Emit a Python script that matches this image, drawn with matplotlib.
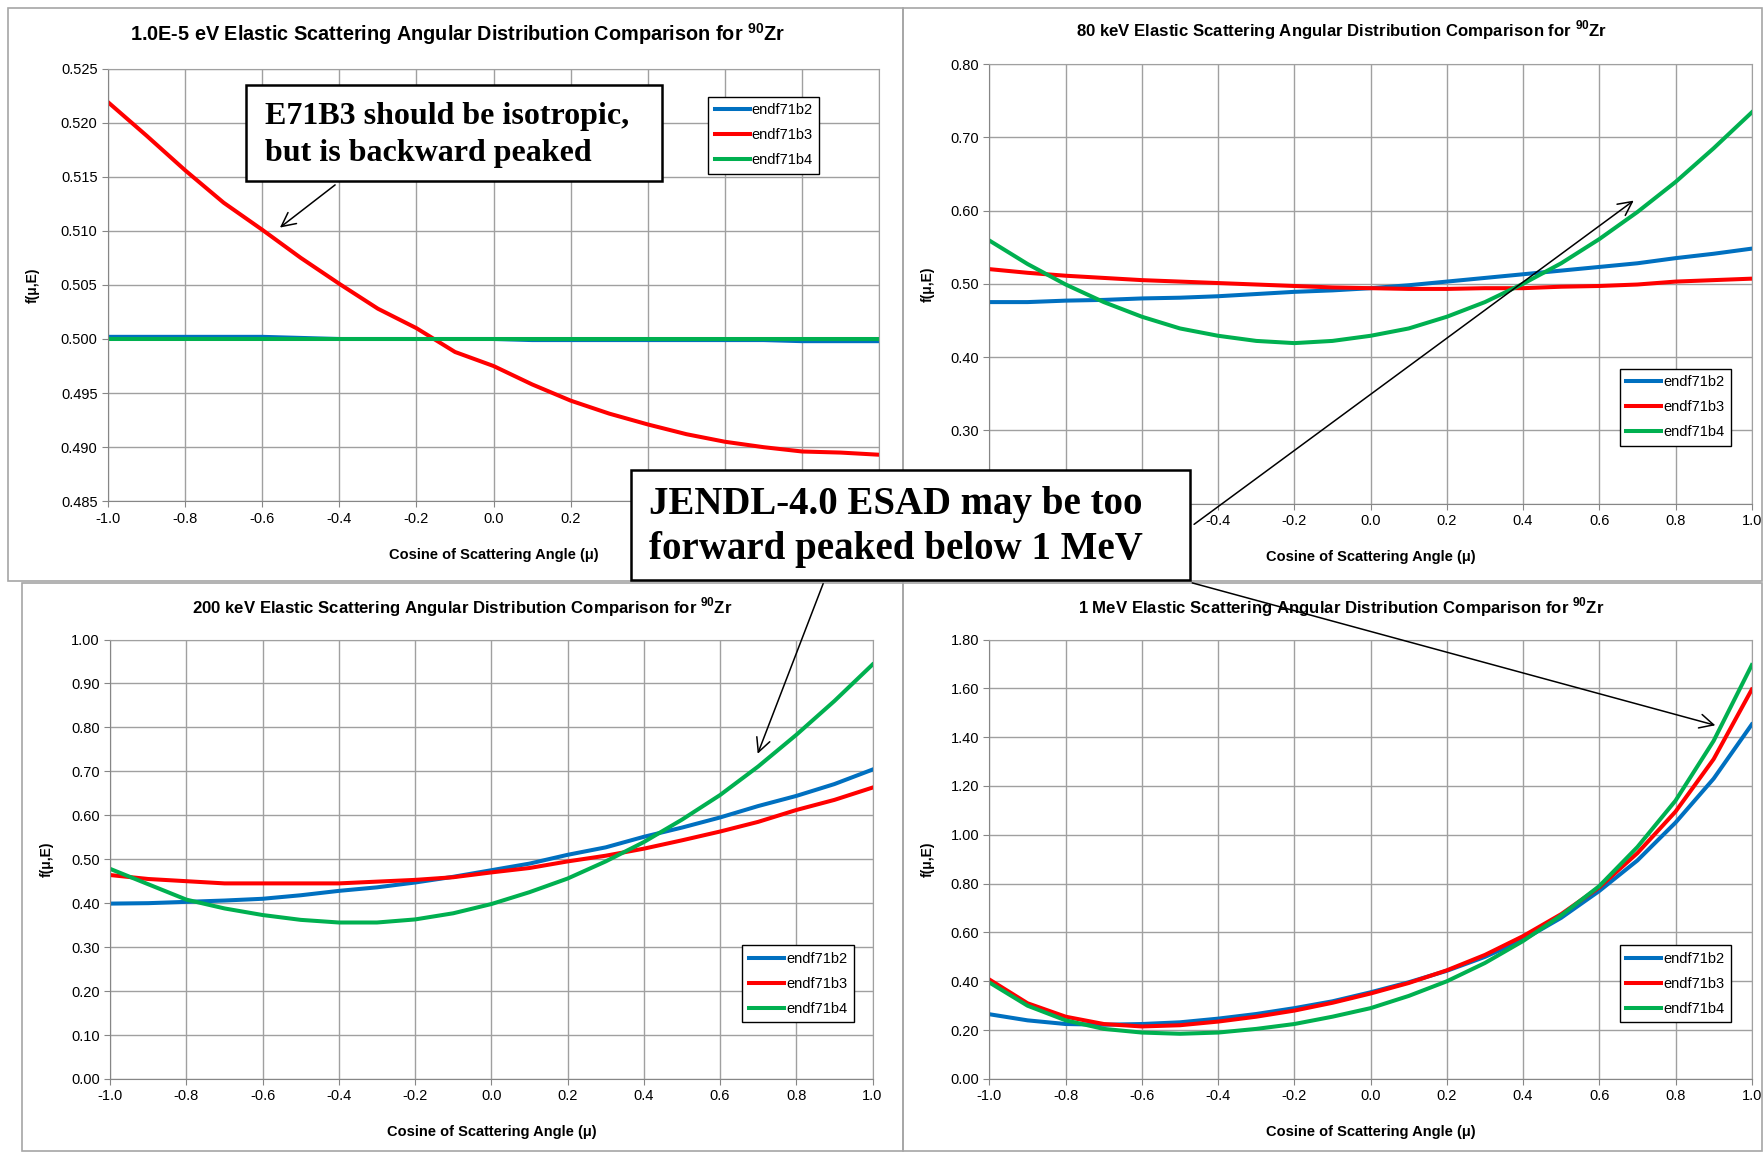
import matplotlib
matplotlib.use('Agg')
import matplotlib.pyplot as plt
from matplotlib.patches import Rectangle, FancyArrowPatch
from matplotlib.ticker import MultipleLocator, FuncFormatter

plt.rcParams['font.family'] = ['Liberation Sans', 'DejaVu Sans']
plt.rcParams['mathtext.fontset'] = 'custom'
plt.rcParams['mathtext.rm'] = 'Liberation Sans'
plt.rcParams['mathtext.bf'] = 'Liberation Sans:bold'

# cosine of scattering angle, same grid for every panel
mu = [-1.0, -0.9, -0.8, -0.7, -0.6, -0.5, -0.4, -0.3, -0.2, -0.1, 0.0,
      0.1, 0.2, 0.3, 0.4, 0.5, 0.6, 0.7, 0.8, 0.9, 1.0]
series_names = ['endf71b2', 'endf71b3', 'endf71b4']

# 1.0E-5 eV
b2_1em5 = [0.5002, 0.5002, 0.5002, 0.5002, 0.5002, 0.5001, 0.5000, 0.5000, 0.5000, 0.5000, 0.5000,
           0.4999, 0.4999, 0.4999, 0.4999, 0.4999, 0.4999, 0.4999, 0.4998, 0.4998, 0.4998]
b3_1em5 = [0.5219, 0.5188, 0.5156, 0.5126, 0.5101, 0.5075, 0.5051, 0.5028, 0.5010, 0.4988, 0.4975,
           0.4958, 0.4943, 0.4931, 0.4921, 0.4912, 0.4905, 0.4900, 0.4896, 0.4895, 0.4893]
b4_1em5 = [0.5000] * 21

# 80 keV
b2_80k = [0.475, 0.475, 0.477, 0.478, 0.480, 0.481, 0.483, 0.486, 0.489, 0.491, 0.494,
          0.498, 0.503, 0.508, 0.513, 0.518, 0.523, 0.528, 0.535, 0.541, 0.548]
b3_80k = [0.520, 0.515, 0.511, 0.508, 0.505, 0.503, 0.501, 0.499, 0.497, 0.495, 0.494,
          0.493, 0.493, 0.494, 0.494, 0.496, 0.497, 0.499, 0.503, 0.505, 0.507]
b4_80k = [0.559, 0.527, 0.499, 0.475, 0.455, 0.439, 0.429, 0.422, 0.419, 0.422, 0.429,
          0.439, 0.455, 0.475, 0.500, 0.528, 0.561, 0.598, 0.639, 0.685, 0.734]

# 200 keV
b2_200k = [0.399, 0.400, 0.403, 0.406, 0.410, 0.418, 0.428, 0.436, 0.447, 0.460, 0.475,
           0.490, 0.510, 0.527, 0.551, 0.572, 0.595, 0.621, 0.644, 0.671, 0.704]
b3_200k = [0.464, 0.455, 0.450, 0.445, 0.445, 0.445, 0.445, 0.449, 0.453, 0.459, 0.470,
           0.480, 0.495, 0.508, 0.524, 0.543, 0.563, 0.585, 0.612, 0.635, 0.663]
b4_200k = [0.478, 0.443, 0.408, 0.388, 0.373, 0.362, 0.356, 0.356, 0.363, 0.377, 0.398,
           0.425, 0.456, 0.495, 0.539, 0.590, 0.646, 0.711, 0.783, 0.860, 0.943]

# 1 MeV
b2_1m = [0.265, 0.240, 0.225, 0.222, 0.225, 0.232, 0.247, 0.266, 0.290, 0.318, 0.355,
         0.396, 0.443, 0.500, 0.570, 0.660, 0.770, 0.895, 1.050, 1.230, 1.452]
b3_1m = [0.407, 0.310, 0.255, 0.225, 0.215, 0.220, 0.235, 0.255, 0.280, 0.312, 0.350,
         0.393, 0.445, 0.508, 0.585, 0.675, 0.785, 0.925, 1.095, 1.310, 1.595]
b4_1m = [0.395, 0.300, 0.240, 0.205, 0.190, 0.185, 0.190, 0.205, 0.225, 0.255, 0.290,
         0.340, 0.400, 0.475, 0.565, 0.670, 0.790, 0.950, 1.140, 1.385, 1.695]

colors = ['#0070C0', '#FF0000', '#00B050']

W, H = 1568.0, 1025.0  # layout measured on the shrunk picture


def fig_rect(x0, y0, x1, y1):
    return [x0 / W, 1 - y1 / H, (x1 - x0) / W, (y1 - y0) / H]


def fig_pt(x, y):
    return (x / W, 1 - y / H)


# tick labels that sit under the big callout box are not shown
def make_formatter(fmt, hidden):
    def f(v, pos):
        for h in hidden:
            if abs(v - h) < 1e-6:
                return ''
        return fmt % v
    return FuncFormatter(f)


def draw_panel(fig, box, border, title, title_xy, title_size, curves, ylim, ystep, yfmt,
               leg_xy, ylab_x, xlab_y, hide_x=(), hide_y=()):
    # gray frame round each chart, like pasted Excel charts
    r = fig_rect(*border)
    fig.add_artist(Rectangle((r[0], r[1]), r[2], r[3], transform=fig.transFigure,
                             fill=False, edgecolor='#a6a6a6', linewidth=1.2, zorder=1))

    ax = fig.add_axes(fig_rect(*box))
    for i, vals in enumerate(curves):
        ax.plot(mu, vals, color=colors[i], linewidth=2.9, label=series_names[i])

    ax.set_xlim(-1.0, 1.0)
    ax.set_ylim(*ylim)
    ax.xaxis.set_major_locator(MultipleLocator(0.2))
    ax.yaxis.set_major_locator(MultipleLocator(ystep))
    ax.xaxis.set_major_formatter(make_formatter('%.1f', hide_x))
    ax.yaxis.set_major_formatter(make_formatter(yfmt, hide_y))
    ax.tick_params(labelsize=10.5, direction='out', length=4, color='#868686')
    ax.grid(True, color='#a0a0a0', linewidth=1.0)
    ax.set_axisbelow(True)
    for s in ax.spines.values():
        s.set_color('#a0a0a0')
    ax.spines['left'].set_color('#868686')
    ax.spines['bottom'].set_color('#868686')

    ax.set_xlabel('Cosine of Scattering Angle (μ)', fontsize=10.5, fontweight='bold')
    ax.set_ylabel('f(μ,E)', fontsize=10, fontweight='bold')
    ax.xaxis.set_label_coords(0.5, xlab_y)
    ax.yaxis.set_label_coords(ylab_x, 0.5)

    leg = ax.legend(loc='upper left', bbox_to_anchor=leg_xy, borderaxespad=0, fontsize=10.5,
                    handlelength=2.4, handletextpad=0.15, labelspacing=0.75, fancybox=False,
                    framealpha=1, edgecolor='black', borderpad=0.45)
    leg.get_frame().set_linewidth(1.0)

    fig.text(*fig_pt(*title_xy), title, ha='center', va='center', fontsize=title_size, fontweight='bold')
    return ax


fig = plt.figure(figsize=(17.63, 11.52), dpi=100)

draw_panel(fig, (96, 61, 782, 446), (7, 7, 803, 517),
           r'1.0E-5 eV Elastic Scattering Angular Distribution Comparison for $^{\mathbf{90}}$Zr', (407, 30), 14.3,
           [b2_1em5, b3_1em5, b4_1em5], (0.485, 0.525), 0.005, '%.3f', (0.778, 0.935), -0.089, -0.109,
           hide_x=(0.4, 0.6, 0.8, 1.0))
draw_panel(fig, (880, 57, 1558, 448), (803, 7, 1567, 517),
           r'80 keV Elastic Scattering Angular Distribution Comparison for $^{\mathbf{90}}$Zr', (1193, 27), 12.1,
           [b2_80k, b3_80k, b4_80k], (0.2, 0.8), 0.1, '%.2f', (0.827, 0.307), -0.072, -0.105,
           hide_x=(-1.0, -0.8, -0.6), hide_y=(0.2,))
draw_panel(fig, (98, 569, 776, 960), (20, 519, 803, 1024),
           r'200 keV Elastic Scattering Angular Distribution Comparison for $^{\mathbf{90}}$Zr', (411, 540), 12.1,
           [b2_200k, b3_200k, b4_200k], (0.0, 1.0), 0.1, '%.2f', (0.829, 0.304), -0.074, -0.105)
draw_panel(fig, (880, 569, 1558, 960), (803, 519, 1567, 1024),
           r'1 MeV Elastic Scattering Angular Distribution Comparison for $^{\mathbf{90}}$Zr', (1193, 540), 12.1,
           [b2_1m, b3_1m, b4_1m], (0.0, 1.8), 0.2, '%.2f', (0.827, 0.304), -0.072, -0.105)

# callout boxes
serif = ['Liberation Serif', 'DejaVu Serif']
for (x0, y0, x1, y1) in [(219, 76, 589, 161), (561, 418, 1058, 516)]:
    r = fig_rect(x0, y0, x1, y1)
    fig.add_artist(Rectangle((r[0], r[1]), r[2], r[3], transform=fig.transFigure,
                             facecolor='white', edgecolor='black', linewidth=1.8, zorder=5))

fig.text(*fig_pt(236, 104), 'E71B3 should be isotropic,', ha='left', va='center',
         fontsize=23, fontweight='bold', family=serif, zorder=6)
fig.text(*fig_pt(236, 137), 'but is backward peaked', ha='left', va='center',
         fontsize=23, fontweight='bold', family=serif, zorder=6)
fig.text(*fig_pt(577, 449), 'JENDL-4.0 ESAD may be too', ha='left', va='center',
         fontsize=28, fontweight='bold', family=serif, zorder=6)
fig.text(*fig_pt(577, 489), 'forward peaked below 1 MeV', ha='left', va='center',
         fontsize=28, fontweight='bold', family=serif, zorder=6)

# arrows from the callouts
arrows = [((300, 163), (247, 204)),
          ((1060, 468), (1455, 177)),
          ((733, 517), (673, 673)),
          ((1058, 518), (1528, 646))]
for start, end in arrows:
    fig.add_artist(FancyArrowPatch(fig_pt(*start), fig_pt(*end), transform=fig.transFigure,
                                   arrowstyle='->,head_length=10,head_width=5', color='black',
                                   linewidth=1.1, zorder=7))

fig.savefig('out.png', dpi=100)
